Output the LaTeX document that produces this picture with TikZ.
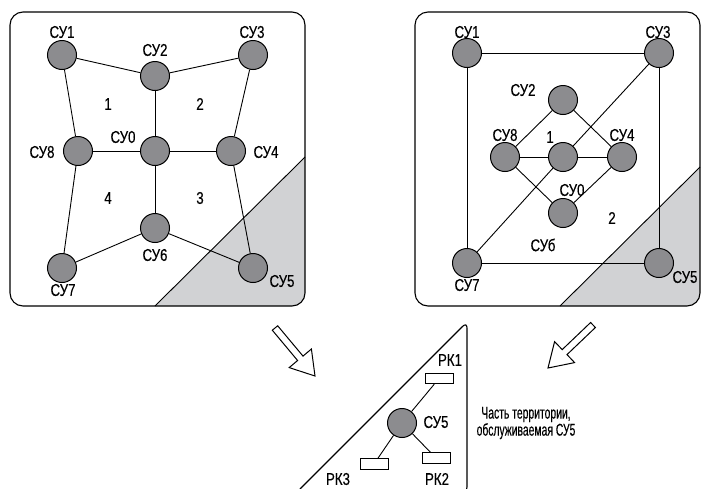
\documentclass[tikz,border=0pt]{standalone}
\usepackage{fontspec}
\setmainfont{Liberation Sans}[FakeStretch=0.78,FakeBold=0.3]
\newfontfamily\narrowfont{Liberation Sans}[FakeStretch=0.61,FakeBold=0.3]
\begin{document}
\begin{tikzpicture}[x=1pt,y=-1pt,
  su/.style={circle,draw,line width=1pt,fill=nodegray,minimum size=29pt,inner sep=0pt},
  lbl/.style={inner sep=0pt,font=\fontsize{17}{19}\selectfont},
  desc/.style={inner sep=0pt,align=center,font=\narrowfont\fontsize{17}{17}\selectfont},
  rk/.style={rectangle,draw,line width=0.9pt,fill=white,minimum width=28pt,minimum height=10.5pt,inner sep=0pt},
  edge/.style={line width=0.9pt},
  panel/.style={line width=1.1pt,rounded corners=13pt},
  bigarrow/.style={draw,line width=1pt,fill=white,line join=miter}]
\definecolor{nodegray}{RGB}{140,140,143}
\definecolor{areagray}{RGB}{209,210,212}
\useasboundingbox (0,0) rectangle (701,488);
\clip (0,0) rectangle (701,488);

% ---------- left panel ----------
\begin{scope}
  \clip[rounded corners=13pt] (10,12) rectangle (305,306);
  \fill[areagray] (305,157) -- (305,306) -- (155,306) -- cycle;
\end{scope}
\draw[panel] (10,12) rectangle (305,306);
\draw[line width=0.9pt] (305,157) -- (155,306);

\node[su] (a1) at (62,55) {};
\node[su] (a2) at (155,76) {};
\node[su] (a3) at (253,55) {};
\node[su] (a8) at (78,151) {};
\node[su] (a0) at (155,151) {};
\node[su] (a4) at (231,151) {};
\node[su] (a6) at (155,228) {};
\node[su] (a7) at (62,268) {};
\node[su] (a5) at (253,268) {};

\draw[edge] (a1) -- (a2);
\draw[edge] (a2) -- (a3);
\draw[edge] (a1) -- (a8);
\draw[edge] (a3) -- (a4);
\draw[edge] (a2) -- (a0);
\draw[edge] (a8) -- (a0);
\draw[edge] (a0) -- (a4);
\draw[edge] (a0) -- (a6);
\draw[edge] (a8) -- (a7);
\draw[edge] (a7) -- (a6);
\draw[edge] (a6) -- (a5);
\draw[edge] (a4) -- (a5);

\node[lbl] (la1) at (62,32) {СУ1};
\node[lbl] (la2) at (155,50) {СУ2};
\node[lbl] (la3) at (252,32) {СУ3};
\node[lbl] (la8) at (42,152) {СУ8};
\node[lbl] (la0) at (123,137) {СУ0};
\node[lbl] (la4) at (266,152) {СУ4};
\node[lbl] (la6) at (155,255) {СУ6};
\node[lbl] (la7) at (63,290) {СУ7};
\node[lbl] (la5) at (282,281) {СУ5};
\node[lbl] (n1) at (108,104) {1};
\node[lbl] (n2) at (200,104) {2};
\node[lbl] (n4) at (108,198) {4};
\node[lbl] (n3) at (200,198) {3};

% ---------- right panel ----------
\begin{scope}
  \clip[rounded corners=13pt] (415,12) rectangle (700,306);
  \fill[areagray] (701,166) -- (701,306) -- (560,306) -- cycle;
\end{scope}
\draw[panel] (415,12) rectangle (700,306);
\draw[line width=0.9pt] (700,167) -- (560,306);

\node[su] (b1) at (467,53) {};
\node[su] (b3) at (659,53) {};
\node[su] (b7) at (467,263) {};
\node[su] (b5) at (659,263) {};
\node[su] (b2) at (563,100) {};
\node[su] (b8) at (505,157) {};
\node[su] (b0) at (563,157) {};
\node[su] (b4) at (622,157) {};
\node[su] (b6) at (563,213) {};

\draw[edge] (b1) -- (b3);
\draw[edge] (b1) -- (b7);
\draw[edge] (b3) -- (b5);
\draw[edge] (b7) -- (b5);
\draw[edge] (b3) -- (b0);
\draw[edge] (b7) -- (b0);
\draw[edge] (b2) -- (b8);
\draw[edge] (b2) -- (b4);
\draw[edge] (b8) -- (b6);
\draw[edge] (b4) -- (b6);
\draw[edge] (b8) -- (b0);
\draw[edge] (b0) -- (b4);

\node[lbl] (lb1) at (467,32) {СУ1};
\node[lbl] (lb3) at (658,32) {СУ3};
\node[lbl] (lb2) at (523,90) {СУ2};
\node[lbl] (lb8) at (505,135) {СУ8};
\node[lbl] (lb4) at (622,135) {СУ4};
\node[lbl] (lb0) at (572,190) {СУ0};
\node[lbl] (lb6) at (543,245) {СУб};
\node[lbl] (lb7) at (467,285) {СУ7};
\node[lbl] (lb5) at (685,277) {СУ5};
\node[lbl] (m1) at (550,137) {1};
\node[lbl] (m2) at (612,218) {2};

% ---------- arrows ----------
\draw[bigarrow] (272.3,330.2) -- (277.7,325.8) -- (303.0,356.1) -- (311.4,349.0)
  -- (315,376) -- (289.2,367.6) -- (297.6,360.5) -- cycle;
\draw[bigarrow] (590.6,322.5) -- (595.4,327.5) -- (567.0,354.6) -- (574.6,362.6)
  -- (548,368) -- (554.6,341.6) -- (562.2,349.6) -- cycle;

% ---------- zoomed fragment ----------
\draw[line width=1.1pt,rounded corners=6pt] (296,493) -- (467,322) -- (467,493) -- cycle;

\node[su] (c5) at (402,423) {};
\node[rk] (r1) at (439,378.5) {};
\node[rk] (r2) at (436,458) {};
\node[rk] (r3) at (374,464) {};
\draw[edge] (c5) -- (r1);
\draw[edge] (c5) -- (r2);
\draw[edge] (c5) -- (r3);

\node[lbl] (lc5) at (436,422) {СУ5};
\node[lbl] (lr1) at (450,360) {РК1};
\node[lbl] (lr2) at (437,479) {РК2};
\node[lbl] (lr3) at (338,479) {РК3};

\node[desc] (txt) at (526,423) {Часть территории,\\обслуживаемая СУ5};
\end{tikzpicture}
\end{document}
